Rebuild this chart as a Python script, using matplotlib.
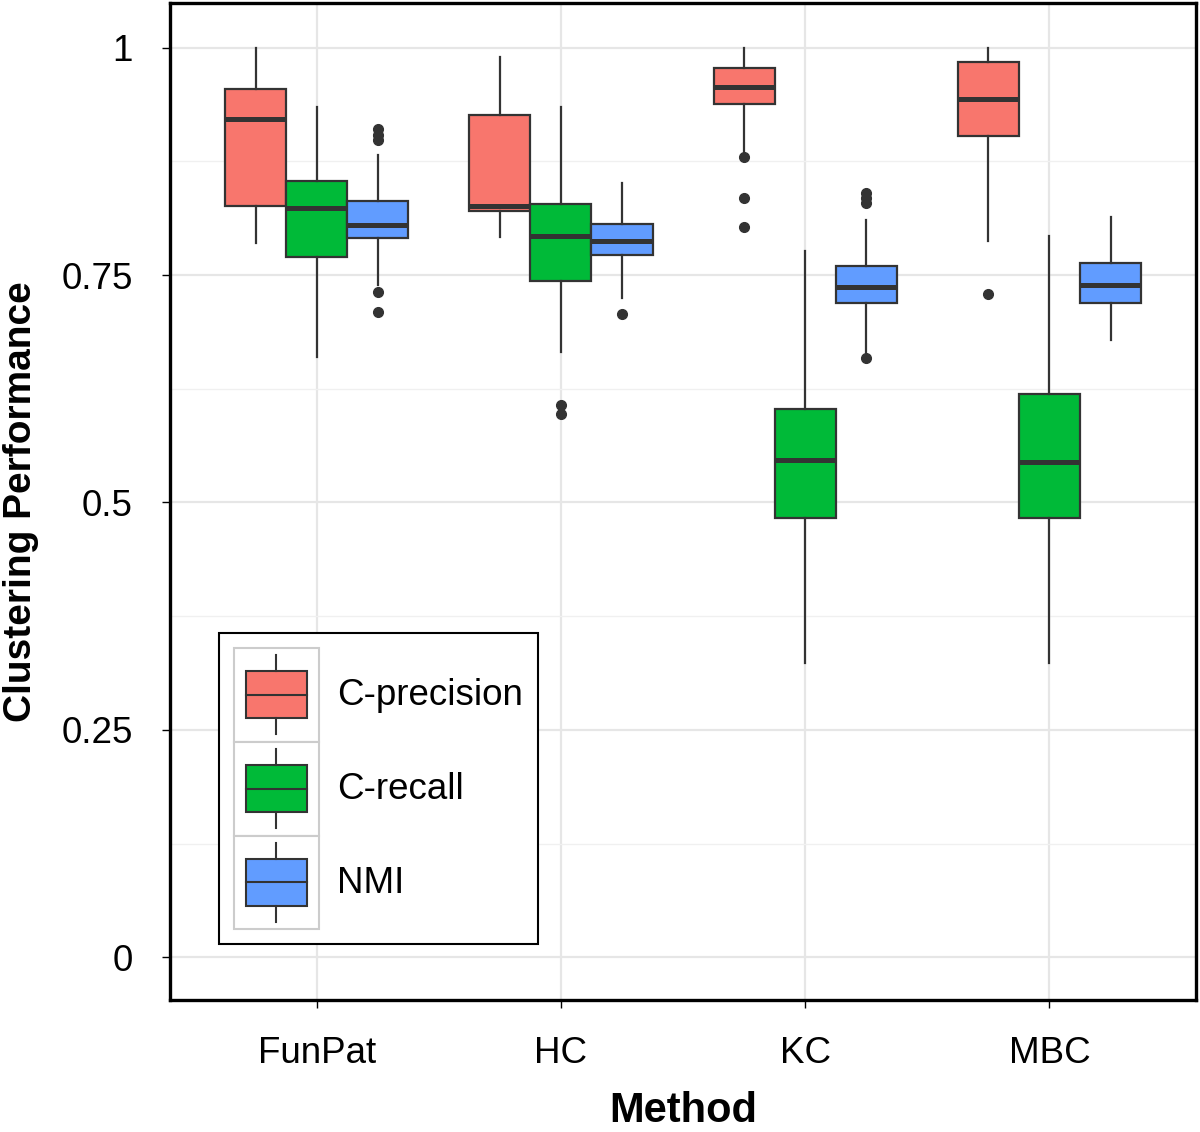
import numpy as np
import matplotlib
matplotlib.use("Agg")
import matplotlib.pyplot as plt
from matplotlib.patches import Rectangle, Patch
from matplotlib.lines import Line2D
from matplotlib.legend_handler import HandlerBase

plt.rcParams['font.family'] = ['Liberation Sans', 'DejaVu Sans']

methods = ['FunPat', 'HC', 'KC', 'MBC']
metrics = ['C-precision', 'C-recall', 'NMI']
colors = ['#F8766D', '#00BA38', '#619CFF']

# per metric, per method: whislo, q1, median, q3, whishi
whislo = {
    'C-precision': [0.785, 0.792, 0.882, 0.787],
    'C-recall':    [0.660, 0.665, 0.323, 0.323],
    'NMI':         [0.739, 0.725, 0.664, 0.679],
}
q1 = {
    'C-precision': [0.826, 0.820, 0.938, 0.903],
    'C-recall':    [0.770, 0.743, 0.483, 0.483],
    'NMI':         [0.791, 0.772, 0.719, 0.719],
}
median = {
    'C-precision': [0.922, 0.826, 0.957, 0.944],
    'C-recall':    [0.824, 0.793, 0.547, 0.544],
    'NMI':         [0.805, 0.787, 0.737, 0.739],
}
q3 = {
    'C-precision': [0.955, 0.926, 0.978, 0.984],
    'C-recall':    [0.853, 0.828, 0.603, 0.619],
    'NMI':         [0.831, 0.806, 0.760, 0.763],
}
whishi = {
    'C-precision': [1.000, 0.990, 1.000, 1.000],
    'C-recall':    [0.935, 0.935, 0.776, 0.793],
    'NMI':         [0.882, 0.851, 0.810, 0.814],
}
outliers = {
    'C-precision': [[], [], [0.880, 0.835, 0.803], [0.729]],
    'C-recall':    [[], [0.607, 0.597], [], []],
    'NMI':         [[0.911, 0.904, 0.898, 0.731, 0.709], [0.707],
                    [0.840, 0.835, 0.829, 0.659], []],
}

fig = plt.figure(figsize=(12, 11.32), dpi=100)
ax = fig.add_axes([0.1417, 0.1166, 0.855, 0.8807])

offsets = [-0.25, 0.0, 0.25]
edge = '#333333'
for k, m in enumerate(metrics):
    stats = []
    for i in range(len(methods)):
        stats.append(dict(med=median[m][i], q1=q1[m][i], q3=q3[m][i],
                          whislo=whislo[m][i], whishi=whishi[m][i],
                          fliers=outliers[m][i]))
    pos = np.arange(1, len(methods) + 1) + offsets[k]
    ax.bxp(stats, positions=pos, widths=0.25, patch_artist=True,
           showcaps=False, manage_ticks=False,
           boxprops=dict(facecolor=colors[k], edgecolor=edge, linewidth=1.6),
           medianprops=dict(color=edge, linewidth=3.6),
           whiskerprops=dict(color=edge, linewidth=1.6),
           flierprops=dict(marker='o', markersize=7, markerfacecolor=edge,
                           markeredgecolor=edge))

ax.set_xlim(0.4, 4.6)
ax.set_ylim(-0.047, 1.049)
ax.set_xticks(range(1, 5))
ax.set_xticklabels(methods)
ax.set_yticks([0, 0.25, 0.5, 0.75, 1])
ax.set_yticklabels(['0', '0.25', '0.5', '0.75', '1'])
ax.set_yticks([0.125, 0.375, 0.625, 0.875], minor=True)
ax.tick_params(axis='y', which='minor', length=0)
ax.tick_params(which='major', length=6, width=1, color='black',
               labelsize=26.5, direction='out')
ax.tick_params(axis='y', pad=21)
ax.tick_params(axis='x', pad=20)
ax.grid(which='major', color='#e6e6e6', linewidth=1.6)
ax.grid(which='minor', axis='y', color='#f0f0f0', linewidth=1.0)
ax.set_axisbelow(True)
for s in ax.spines.values():
    s.set_linewidth(2.4)
    s.set_color('black')

ax.set_xlabel('Method', fontsize=30, fontweight='bold', labelpad=14)
ax.set_ylabel('Clustering Performance', fontsize=28, fontweight='bold',
              labelpad=16)


class BoxKey(HandlerBase):
    def create_artists(self, legend, orig_handle, xdescent, ydescent,
                       width, height, fontsize, trans):
        fc = orig_handle.get_facecolor()
        x0, y0 = -xdescent, -ydescent
        bg = Rectangle((x0, y0), width, height, facecolor='white',
                       edgecolor='#cccccc', linewidth=1.5, transform=trans)
        cx = x0 + width / 2
        box = Rectangle((x0 + 0.14 * width, y0 + 0.25 * height),
                        0.72 * width, 0.5 * height, facecolor=fc,
                        edgecolor=edge, linewidth=1.5, transform=trans)
        med = Line2D([x0 + 0.14 * width, x0 + 0.86 * width],
                     [y0 + 0.5 * height] * 2, color=edge, linewidth=1.5,
                     transform=trans)
        w1 = Line2D([cx, cx], [y0 + 0.08 * height, y0 + 0.25 * height],
                    color=edge, linewidth=1.5, transform=trans)
        w2 = Line2D([cx, cx], [y0 + 0.75 * height, y0 + 0.92 * height],
                    color=edge, linewidth=1.5, transform=trans)
        return [bg, box, med, w1, w2]


handles = [Patch(facecolor=c) for c in colors]
leg = ax.legend(handles, metrics, loc='lower left',
                bbox_to_anchor=(0.048, 0.056), borderaxespad=0,
                fontsize=26.5, handler_map={Patch: BoxKey()},
                handlelength=2.3, handleheight=3.55, labelspacing=0,
                handletextpad=0.5, borderpad=0.4, fancybox=False,
                framealpha=1)
leg.get_frame().set_edgecolor('black')
leg.get_frame().set_linewidth(1.5)

fig.savefig('out.png', dpi=100)
